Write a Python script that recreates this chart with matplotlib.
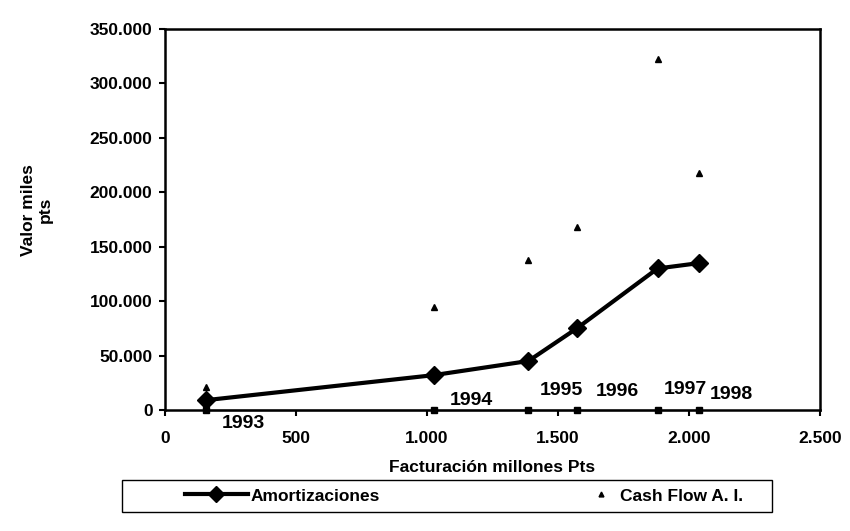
import matplotlib
matplotlib.use('Agg')
import matplotlib.pyplot as plt
from matplotlib.lines import Line2D
from matplotlib.patches import Rectangle
from matplotlib.ticker import FuncFormatter

# ---- data ----
years = ['1993', '1994', '1995', '1996', '1997', '1998']
facturacion = [155, 1025, 1387, 1572, 1880, 2040]          # millones Pts
amortizaciones = [9000, 32000, 45000, 75000, 130000, 135000]  # miles pts
cash_flow = [21000, 95000, 138000, 168000, 322000, 218000]    # miles pts
base_series = [0, 0, 0, 0, 0, 0]                             # series carrying year labels

x_ticks = [0, 500, 1000, 1500, 2000, 2500]
y_ticks = [0, 50000, 100000, 150000, 200000, 250000, 300000, 350000]

# label placement (offset points) for the year data labels
year_label_offsets = [(27, -10), (27, 7), (24, 14), (29, 13), (20, 15), (23, 11)]

plt.rcParams['font.family'] = ['Liberation Sans', 'DejaVu Sans']
plt.rcParams['font.weight'] = 'bold'


def miles(v, pos):
    return f'{int(round(v)):,}'.replace(',', '.')


fig = plt.figure(figsize=(8.5, 5.31), dpi=100)
ax = fig.add_axes([165 / 850, 1 - 410 / 531, (820 - 165) / 850, (410 - 29) / 531])

ax.plot(facturacion, base_series, color='black', lw=1.0, marker='s', ms=4.5,
        clip_on=False, zorder=3)
ax.plot(facturacion, amortizaciones, color='black', lw=3, marker='D', ms=9,
        zorder=4, clip_on=False)
ax.plot(facturacion, cash_flow, ls='none', marker='^', ms=5, color='black',
        zorder=4, clip_on=False)

for xv, yv, yr, off in zip(facturacion, base_series, years, year_label_offsets):
    ax.annotate(yr, (xv, yv), xytext=off, textcoords='offset points',
                ha='center', va='center', fontsize=14, fontweight='bold')

ax.set_xlim(x_ticks[0], x_ticks[-1])
ax.set_ylim(y_ticks[0], y_ticks[-1])
ax.set_xticks(x_ticks)
ax.set_yticks(y_ticks)
ax.xaxis.set_major_formatter(FuncFormatter(miles))
ax.yaxis.set_major_formatter(FuncFormatter(miles))
ax.tick_params(axis='both', direction='out', length=4, width=1.5,
               labelsize=12.5, colors='black')
ax.tick_params(axis='x', pad=11)
ax.tick_params(axis='y', pad=5)
for s in ax.spines.values():
    s.set_linewidth(1.8)
    s.set_color('black')

ax.set_xlabel('Facturación millones Pts', fontsize=12.5, fontweight='bold', labelpad=10)
fig.text(37 / 850, 1 - 210 / 531, 'Valor miles\npts', rotation=90, ha='center',
         va='center', fontsize=12.5, fontweight='bold', linespacing=1.1,
         multialignment='center')

# legend box
fig.patches.append(Rectangle((122 / 850, 1 - 512 / 531), 650 / 850, 32 / 531,
                             transform=fig.transFigure, fill=False,
                             edgecolor='black', lw=1.0))
yc = 1 - 496 / 531
leg1 = fig.legend([Line2D([], [], color='black', lw=3, marker='D', ms=8)],
                  ['Amortizaciones'], loc='center left',
                  bbox_to_anchor=(185 / 850, yc), bbox_transform=fig.transFigure,
                  frameon=False, borderpad=0, borderaxespad=0,
                  handlelength=3.6, handletextpad=0.2,
                  prop={'size': 12.5, 'weight': 'bold'})
leg2 = fig.legend([Line2D([], [], ls='none', marker='^', ms=3.5, color='black')],
                  ['Cash Flow A. I.'], loc='center left',
                  bbox_to_anchor=(592 / 850, yc), bbox_transform=fig.transFigure,
                  frameon=False, borderpad=0, borderaxespad=0,
                  handlelength=1.0, handletextpad=0.6,
                  prop={'size': 12.5, 'weight': 'bold'})

fig.savefig('out.png', dpi=100)
